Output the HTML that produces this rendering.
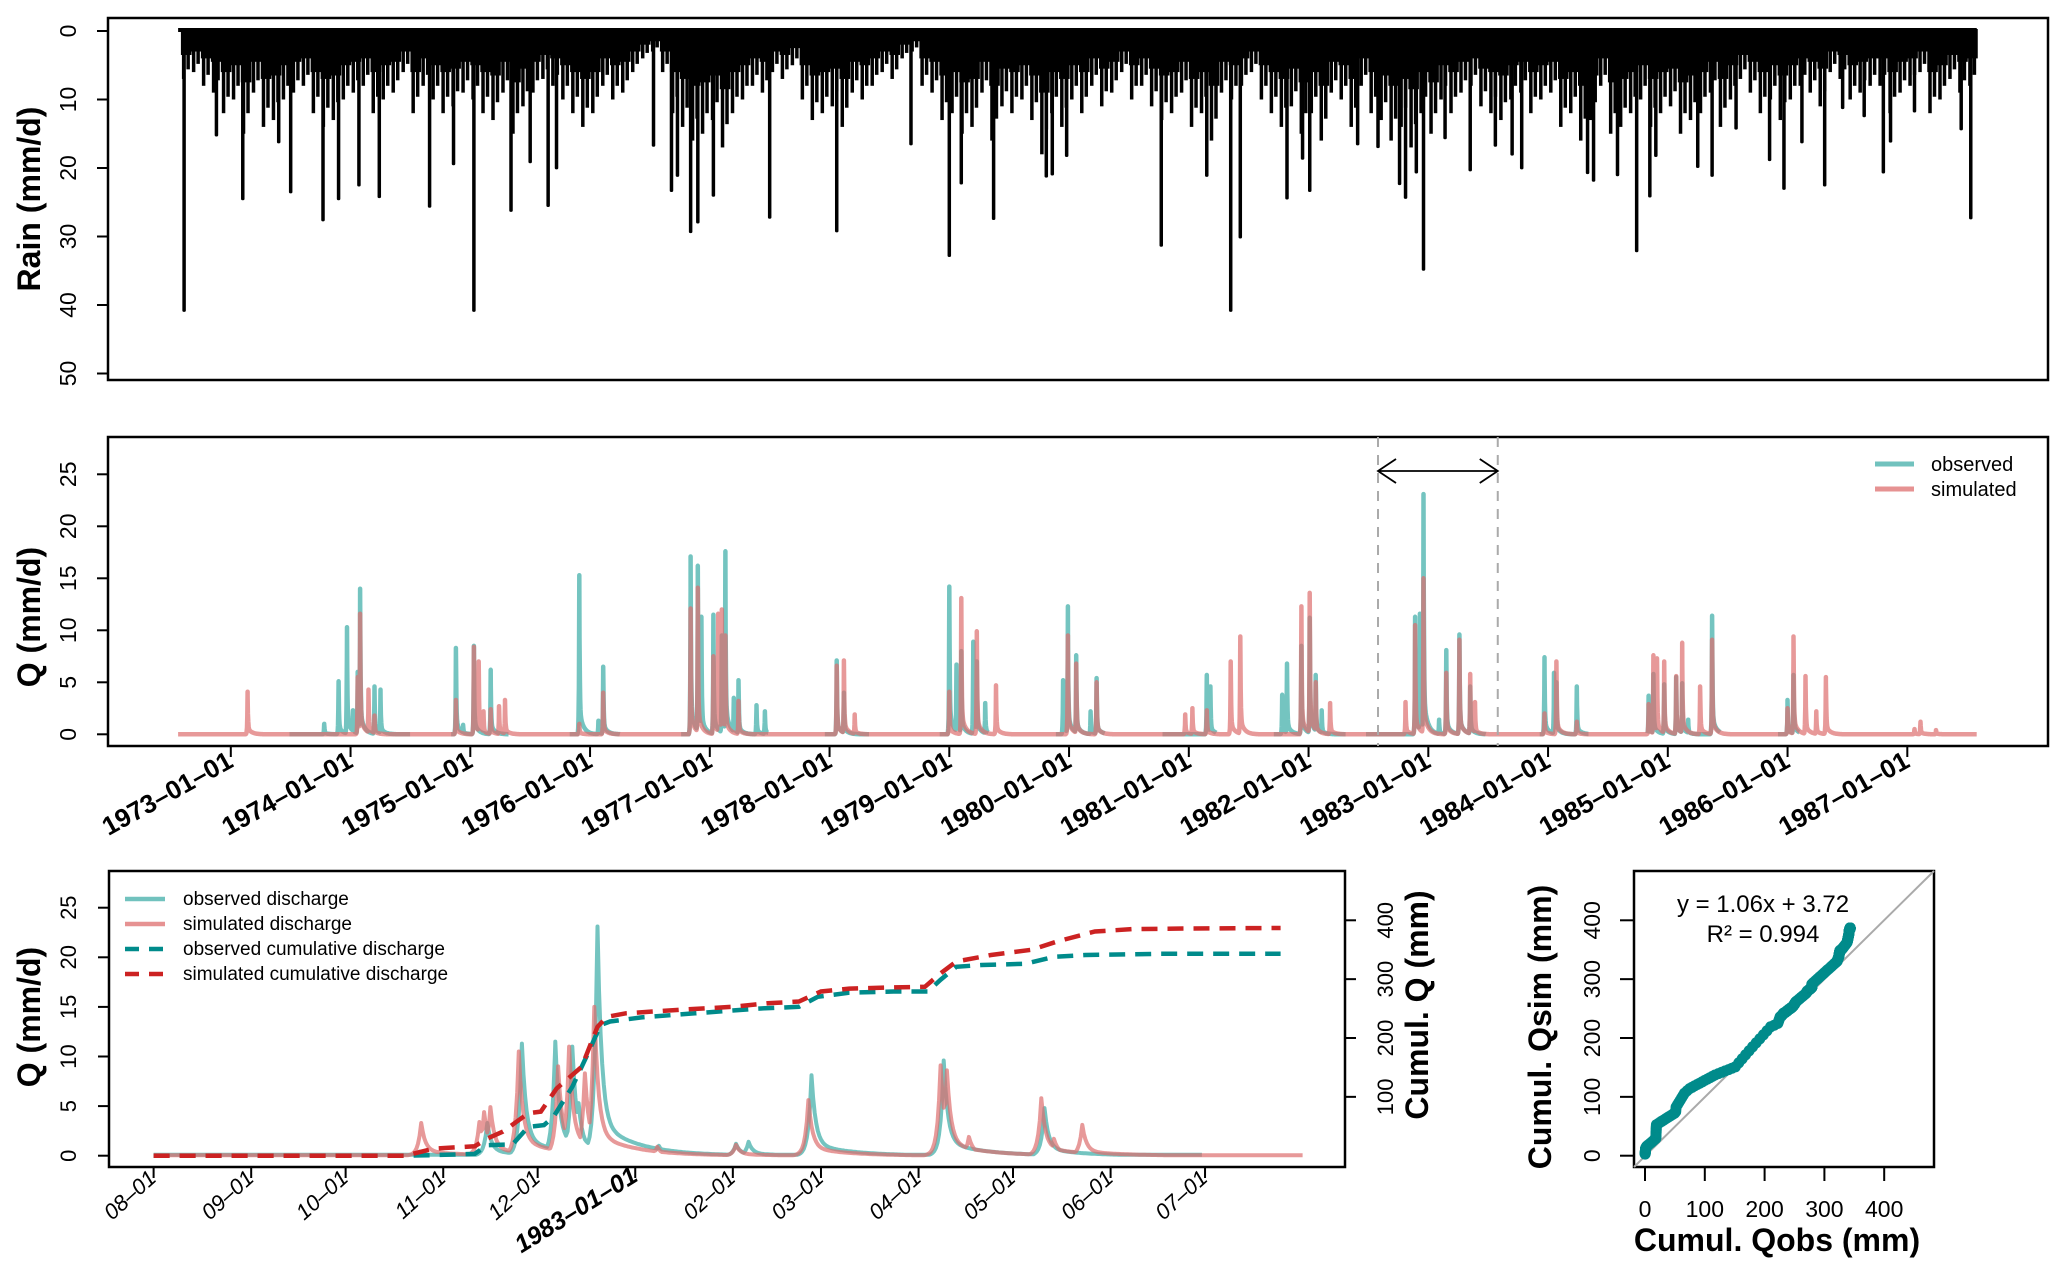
<!DOCTYPE html>
<html><head><meta charset="utf-8"><style>
html,body{margin:0;padding:0;background:#fff}
svg{display:block}
text{font-family:"Liberation Sans",sans-serif;fill:#000}
</style></head><body>
<svg id="fig" width="2067" height="1276" viewBox="0 0 2067 1276" xmlns="http://www.w3.org/2000/svg">
<g id="p1"></g>
<g id="p2"></g>
<g id="p3"></g>
<g id="p4"></g>
</svg>
<script>
// ---------- DATA ----------
const rainBase = [7,6,8,9,12,
10,15,9,14,13,10,9,8,12,14,13,10,
9,8,12,10,9,6,12,8,10,12,11,9,
10,12,13,9,15,11,9,7,8,10,12,14,
12,8,10,9,6,4,3,6,12,14,16,15,
13,17,12,10,8,9,6,7,5,10,13,12,
11,14,9,10,8,6,7,4,3,8,9,13,
12,15,14,9,16,11,12,10,13,18,12,14,
10,12,8,11,9,6,10,8,11,13,12,9,
14,12,16,9,10,8,6,10,12,14,11,15,
12,16,9,10,14,8,12,13,16,14,17,12,
15,10,12,9,8,11,12,13,10,9,12,10,
9,14,12,16,13,8,15,14,12,10,14,12,
11,15,13,12,9,14,10,7,9,12,10,13,
10,8,9,11,6,7,10,9,8,8,12,9,
8,6,12,10,7,9,8];
const rainSpikeDates = [1972.61,1972.88,1973.10,1973.40,1973.50,1973.77,1973.90,1974.07,1974.24,1974.66,1974.86,1975.03,1975.34,1975.50,1975.65,1975.72,1976.53,1976.68,1976.73,1976.84,1976.90,1977.03,1977.50,1978.06,1978.68,1979.00,1979.10,1979.37,1979.81,1979.86,1979.98,1980.77,1981.15,1981.35,1981.43,1981.82,1981.95,1982.01,1982.41,1982.58,1982.76,1982.81,1982.90,1982.96,1983.14,1983.35,1983.56,1983.70,1983.78,1984.33,1984.38,1984.58,1984.74,1984.85,1984.90,1985.25,1985.37,1985.57,1985.85,1985.97,1986.12,1986.31,1986.46,1986.64,1986.80,1986.86,1987.06,1987.45,1987.53];
const rainSpikeValues = [41,15.4,24.7,16.4,23.7,27.8,24.7,22.7,24.4,25.8,19.6,41,26.4,19.3,25.7,20.2,16.9,23.5,21.3,29.5,28.1,24.2,27.4,29.4,16.7,33,22.4,27.6,21.4,21.1,18.4,31.5,21.3,41,30.3,24.6,18.8,23.5,16.7,17.1,22.5,24.5,20.8,35,15.8,20.5,16.9,18.2,20.2,20.9,22,21.2,32.3,24.3,18.4,20,21.3,14.4,19,23.2,16.4,22.7,11.4,12.6,20.8,16.3,11.9,14.5,27.5];
const rainTicks = [0,10,20,30,40,50];

const simPeakDates = [1973.14,1974.06,1974.08,1974.15,1974.20,1974.88,1975.03,1975.07,1975.11,1975.17,1975.24,1975.29,1975.91,1976.11,1976.84,1976.90,1977.03,1977.07,1977.10,1977.13,1977.24,1978.06,1978.12,1978.21,1979.00,1979.10,1979.23,1979.39,1979.99,1980.06,1980.23,1980.97,1981.03,1981.15,1981.35,1981.43,1981.94,1982.01,1982.06,1982.18,1982.81,1982.89,1982.96,1983.15,1983.26,1983.35,1983.39,1983.97,1984.07,1984.24,1984.84,1984.88,1984.91,1984.97,1985.07,1985.12,1985.27,1985.37,1986.00,1986.05,1986.15,1986.24,1986.32,1987.06,1987.11,1987.24];
const simPeakValues = [4.1,5.5,11.6,4.3,1.8,3.3,8.4,7.0,2.2,2.4,2.7,3.3,1.0,4.0,12.1,14.1,7.5,11.6,12,9.5,3.2,6.6,7.1,1.9,4.1,13.1,9.9,4.7,9.5,6.8,5.0,1.9,2.5,2.3,7.0,9.4,12.3,13.6,5.0,3.0,3.1,10.5,15,5.9,9.1,5.8,3.1,2,7.0,1.2,2.9,7.6,7.3,7.0,5.6,8.8,4.6,9.1,2.5,9.4,5.6,2.2,5.5,0.5,1.2,0.4];
const obsPeakDates = [1973.78,1973.90,1973.97,1974.02,1974.06,1974.08,1974.20,1974.25,1974.88,1974.94,1975.03,1975.17,1975.91,1976.07,1976.11,1976.84,1976.90,1976.93,1977.03,1977.10,1977.13,1977.20,1977.24,1977.39,1977.46,1978.06,1978.12,1979.00,1979.06,1979.10,1979.20,1979.23,1979.30,1979.95,1979.99,1980.06,1980.18,1980.23,1981.15,1981.18,1981.78,1981.82,1981.94,1982.01,1982.06,1982.11,1982.89,1982.93,1982.96,1983.09,1983.15,1983.26,1983.35,1983.97,1984.05,1984.07,1984.24,1984.84,1984.88,1984.97,1985.07,1985.12,1985.17,1985.37,1986.00,1986.05];
const obsPeakValues = [1.0,5.1,10.3,2.3,6,14,4.6,4.3,8.3,0.9,8.5,6.2,15.3,1.3,6.5,17.1,16.2,11.3,11.5,9.5,17.6,3.5,5.2,2.8,2.2,7.1,4,14.2,6.7,8,8.9,7,3,5.2,12.3,7.6,2.2,5.4,5.7,4.6,3.8,6.8,8.5,11.2,5.7,2.3,11.3,11.6,23.1,1.4,8.1,9.6,4.6,7.4,5.9,5,4.6,3.7,5.8,4.8,5.5,4.9,1.4,11.4,3.3,5.7];
const obsPeriodStart = [1973.49,1974.84,1975.83,1976.76,1977.96,1978.92,1979.89,1980.78,1981.71,1982.48,1983.93,1984.83,1985.92];
const obsPeriodEnd   = [1974.50,1975.32,1976.25,1977.49,1978.33,1979.33,1980.30,1981.23,1982.31,1983.48,1984.34,1985.44,1986.10];
const yearLabels = ["1973-01-01","1974-01-01","1975-01-01","1976-01-01","1977-01-01","1978-01-01","1979-01-01","1980-01-01","1981-01-01","1982-01-01","1983-01-01","1984-01-01","1985-01-01","1986-01-01","1987-01-01"];
const qTicks = [0,5,10,15,20,25];

const zSimPeakDays = [85,103.5,105,107,116,128.5,132,137,140,160,185,208,250,252,259,282,286,295];
const zSimPeakValues = [3.3,3.4,4.4,4.9,10.5,9,11,8.3,15,0.9,1.1,5.6,9.1,8.6,1.9,5.8,1.7,3.1];
const zObsPeakDays = [84.5,106,117,127.6,133,135,141,160.5,185,189,209,251,283];
const zObsPeakValues = [0.4,3.3,11.3,11.5,11,5.3,23.1,1.0,1.2,1.4,8.1,9.6,4.8];
const simCumDays = [0,80,89,102,106,111,119,123,128,136,141,144,150,167,184,195,205,212,221,235,245,250,255,266,279,287,299,311,328,358];
const simCumVals = [0,0,12,16,29,41,72,75,114,151,219,236,242,248,253,259,262,279,284,286,287,310,330,341,350,364,381,385,386,387];
const obsCumDays = [0,80,89,102,106,114,119,124,127,133,138,142,145,155,172,192,205,211,221,235,246,250,255,263,277,286,296,320,358];
const obsCumVals = [0,0,1,3,18,19,49,52,66,117,174,222,228,235,242,250,253,270,277,279,279,299,321,324,326,338,341,343,343];
const monthDays = [0,31,61,92,122,153,184,212,243,273,304,334];
const monthLabels = ["08-01","09-01","10-01","11-01","12-01","1983-01-01","02-01","03-01","04-01","05-01","06-01","07-01"];
const cumTicks = [100,200,300,400];
const scatTicks = [0,100,200,300,400];

// ---------- HELPERS ----------
const NS="http://www.w3.org/2000/svg";
function mk(parent,tag,attrs,txt){const e=document.createElementNS(NS,tag);for(const k in attrs)e.setAttribute(k,attrs[k]);if(txt!==undefined)e.textContent=txt;parent.appendChild(e);return e;}
const DASH="\u2013";
const P1=document.getElementById('p1'),P2=document.getElementById('p2'),P3=document.getElementById('p3'),P4=document.getElementById('p4');
const X=yr=>230.8+(yr-1973)*119.75;
const YR=v=>31+v*6.85;
const YQ=v=>734.3-v*10.4;
const X3=d=>153.6+d*3.148;
const Y3=v=>1155.7-v*9.92;
const YC=v=>1155.7-v*0.5885;
const XS=v=>1645+v*0.598;
const YS=v=>1155.7-v*0.5885;
function kern(dtDays){ if(dtDays<0) return Math.exp(dtDays/1.0); return 0.85*Math.exp(-dtDays/1.3)+0.15*Math.exp(-dtDays/12); }
function hydro(t,dates,vals,scale){let m=0;for(let k=0;k<dates.length;k++){const dt=(t-dates[k])*scale;if(dt<-6||dt>80)continue;const v=vals[k]*kern(dt);if(v>m)m=v;}return m;}
function interp(xs,ys,x){if(x<=xs[0])return ys[0];for(let i=1;i<xs.length;i++){if(x<=xs[i]){const f=(x-xs[i-1])/(xs[i]-xs[i-1]);return ys[i-1]+f*(ys[i]-ys[i-1]);}}return ys[ys.length-1];}
// sample times on a regular grid plus the exact peak times so peaks are not clipped
function times(a,b,step,peaks){const ts=[];for(let t=a;t<=b;t+=step)ts.push(t);peaks.forEach(p=>{if(p>=a&&p<=b)ts.push(p);});return ts.sort((x,y)=>x-y);}

// ---------- PANEL 1: RAIN ----------
let e;
e=mk(P1,'rect',{x:108,y:18,width:1940,height:362,fill:'none',stroke:'#000','stroke-width':2.5});

const rg=mk(P1,'g',{fill:'#000'});

const mw=119.75/12;
rainBase.forEach((v,i)=>{const yr=1972+7/12+i/12;const x0=X(yr);
 const r=mk(rg,'rect',{x:x0,y:YR(0)-2,width:mw+0.6,height:YR(v*0.5)-YR(0)+2});
 
 const l=mk(rg,'rect',{x:x0+mw*0.1,y:YR(0),width:3.5,height:YR(v)-YR(0)});
 
 const l2=mk(rg,'rect',{x:x0+mw*0.55,y:YR(0),width:3.5,height:YR(v*0.8)-YR(0)});
 
});
rainSpikeDates.forEach((d,i)=>{const s=mk(rg,'rect',{x:X(d)-1.75,y:YR(0),width:3.5,height:YR(rainSpikeValues[i])-YR(0),rx:1.5});
 });
const rt=mk(P1,'rect',{x:X(1972.56),y:YR(0)-3,width:X(1987.58)-X(1972.56),height:4,fill:'#000'});

rainTicks.forEach(t=>{const y=YR(t);
 const l=mk(P1,'line',{x1:97,x2:108,y1:y,y2:y,stroke:'#000','stroke-width':2});
 
 const tx=mk(P1,'text',{x:0,y:0,transform:`translate(76,${y}) rotate(-90)`,'text-anchor':'middle','font-size':23},String(t));
 });
e=mk(P1,'text',{transform:'translate(40,199) rotate(-90)','text-anchor':'middle','font-size':32,'font-weight':'bold'},'Rain (mm/d)');


// ---------- PANEL 2: DISCHARGE ----------
e=mk(P2,'rect',{x:108,y:437,width:1940,height:309,fill:'none',stroke:'#000','stroke-width':2.5});

const t0=1972.56,t1=1987.58,dt=1/365.25;
obsPeriodStart.forEach((s,k)=>{const pts=times(s,obsPeriodEnd[k],dt,obsPeakDates).map(t=>X(t).toFixed(1)+','+YQ(hydro(t,obsPeakDates,obsPeakValues,365.25)).toFixed(1));
 const p=mk(P2,'polyline',{points:pts.join(' '),fill:'none',stroke:'#4db3ae','stroke-opacity':0.78,'stroke-width':4.5,'stroke-linejoin':'round'});
 });
{const pts=times(t0,t1,dt,simPeakDates).map(t=>X(t).toFixed(1)+','+YQ(hydro(t,simPeakDates,simPeakValues,365.25)).toFixed(1));
 const p=mk(P2,'polyline',{points:pts.join(' '),fill:'none',stroke:'#dd6d6d','stroke-opacity':0.7,'stroke-width':4.5,'stroke-linejoin':'round'});
 }
qTicks.forEach(t=>{const y=YQ(t);
 const l=mk(P2,'line',{x1:97,x2:108,y1:y,y2:y,stroke:'#000','stroke-width':2});
 
 const tx=mk(P2,'text',{transform:`translate(76,${y}) rotate(-90)`,'text-anchor':'middle','font-size':23},String(t));
 });
e=mk(P2,'text',{transform:'translate(40,617) rotate(-90)','text-anchor':'middle','font-size':32,'font-weight':'bold'},'Q (mm/d)');

yearLabels.forEach((lab,i)=>{const x=X(1973+i);
 const l=mk(P2,'line',{x1:x,x2:x,y1:746,y2:757,stroke:'#000','stroke-width':2});
 
 const tx=mk(P2,'text',{transform:`translate(${x+4},766) rotate(-29)`,'text-anchor':'end','font-size':26,'font-weight':'bold'},lab.split('-').join(DASH));
 });
[1982.58,1983.58].forEach(d=>{const l=mk(P2,'line',{x1:X(d),x2:X(d),y1:437,y2:746,stroke:'#aaa','stroke-width':2,'stroke-dasharray':'10 8'});
 });
{const xa=X(1982.58),xb=X(1983.58),y=471;
 e=mk(P2,'path',{d:`M${xa},${y}L${xb},${y}M${xa+18},${y-12}L${xa},${y}L${xa+18},${y+12}M${xb-18},${y-12}L${xb},${y}L${xb-18},${y+12}`,fill:'none',stroke:'#000','stroke-width':1.8});
 }
e=mk(P2,'line',{x1:1875,x2:1914,y1:464,y2:464,stroke:'#4db3ae','stroke-opacity':0.8,'stroke-width':5});

e=mk(P2,'text',{x:1931,y:471,'font-size':20},'observed');

e=mk(P2,'line',{x1:1875,x2:1914,y1:489,y2:489,stroke:'#dd6d6d','stroke-opacity':0.75,'stroke-width':5});

e=mk(P2,'text',{x:1931,y:496,'font-size':20},'simulated');


// ---------- PANEL 3: ZOOM YEAR ----------
e=mk(P3,'rect',{x:109,y:871,width:1236,height:296,fill:'none',stroke:'#000','stroke-width':2.5});

{const pts=times(0,333,0.5,zObsPeakDays).map(d=>X3(d).toFixed(1)+','+Y3(Math.max(0.1,hydro(d,zObsPeakDays,zObsPeakValues,1))).toFixed(1));
 const p=mk(P3,'polyline',{points:pts.join(' '),fill:'none',stroke:'#4db3ae','stroke-opacity':0.78,'stroke-width':4,'stroke-linejoin':'round'});
 }
{const pts=times(0,365,0.5,zSimPeakDays).map(d=>X3(d).toFixed(1)+','+Y3(Math.max(0.05,hydro(d,zSimPeakDays,zSimPeakValues,1))).toFixed(1));
 const p=mk(P3,'polyline',{points:pts.join(' '),fill:'none',stroke:'#dd6d6d','stroke-opacity':0.7,'stroke-width':4,'stroke-linejoin':'round'});
 }
e=mk(P3,'polyline',{points:obsCumDays.map((d,i)=>X3(d).toFixed(1)+','+YC(obsCumVals[i]).toFixed(1)).join(' '),fill:'none',stroke:'#008b8b','stroke-width':4.5,'stroke-dasharray':'16 10'});

e=mk(P3,'polyline',{points:simCumDays.map((d,i)=>X3(d).toFixed(1)+','+YC(simCumVals[i]).toFixed(1)).join(' '),fill:'none',stroke:'#cc2222','stroke-width':4.5,'stroke-dasharray':'16 10'});

qTicks.forEach(t=>{const y=Y3(t);
 const l=mk(P3,'line',{x1:98,x2:109,y1:y,y2:y,stroke:'#000','stroke-width':2});
 
 const tx=mk(P3,'text',{transform:`translate(76,${y}) rotate(-90)`,'text-anchor':'middle','font-size':22},String(t));
 });
cumTicks.forEach(t=>{const y=YC(t);
 const l=mk(P3,'line',{x1:1345,x2:1356,y1:y,y2:y,stroke:'#000','stroke-width':2});
 
 const tx=mk(P3,'text',{transform:`translate(1393,${y}) rotate(-90)`,'text-anchor':'middle','font-size':22},String(t));
 });
e=mk(P3,'text',{transform:'translate(40,1017) rotate(-90)','text-anchor':'middle','font-size':32,'font-weight':'bold'},'Q (mm/d)');

e=mk(P3,'text',{transform:'translate(1428,1005) rotate(-90)','text-anchor':'middle','font-size':32,'font-weight':'bold'},'Cumul. Q (mm)');

monthDays.forEach((d,i)=>{const x=X3(d);const big=monthLabels[i].length>6;
 const l=mk(P3,'line',{x1:x,x2:x,y1:1167,y2:1178,stroke:'#000','stroke-width':2});
 
 const tx=mk(P3,'text',{transform:`translate(${x+4},1180) rotate(${big?-32:-42})`,'text-anchor':'end','font-size':big?25:22,'font-style':'italic','font-weight':big?'bold':'normal'},monthLabels[i].split('-').join(DASH));
 });
const leg=[['observed discharge','#4db3ae',0.8,null],['simulated discharge','#dd6d6d',0.75,null],['observed cumulative discharge','#008b8b',1,'14 10'],['simulated cumulative discharge','#cc2222',1,'14 10']];
leg.forEach((L,i)=>{const y=899+i*25;
 const a={x1:125,x2:165,y1:y,y2:y,stroke:L[1],'stroke-opacity':L[2],'stroke-width':4.5};if(L[3])a['stroke-dasharray']=L[3];
 const l=mk(P3,'line',a);
 const t=mk(P3,'text',{x:183,y:y+6,'font-size':19},L[0]);});

// ---------- PANEL 4: SCATTER ----------
e=mk(P4,'rect',{x:1634,y:871,width:300,height:296,fill:'none',stroke:'#000','stroke-width':2.5});

e=mk(P4,'line',{x1:1634,y1:1167,x2:1934,y2:871,stroke:'#aaa','stroke-width':2});

for(let d=82;d<=358;d+=0.5){const o=interp(obsCumDays,obsCumVals,d),s=interp(simCumDays,simCumVals,d);
 const c=mk(P4,'circle',{cx:XS(o).toFixed(1),cy:YS(s).toFixed(1),r:5.5,fill:'#008b8b'});
 }
scatTicks.forEach(t=>{const x=XS(t);
 const l=mk(P4,'line',{x1:x,x2:x,y1:1167,y2:1181,stroke:'#000','stroke-width':2});
 
 const tx=mk(P4,'text',{x:x,y:1217,'text-anchor':'middle','font-size':23},String(t));
 
 const y=YS(t);
 const l2=mk(P4,'line',{x1:1620,x2:1634,y1:y,y2:y,stroke:'#000','stroke-width':2});
 
 const t2=mk(P4,'text',{transform:`translate(1600,${y}) rotate(-90)`,'text-anchor':'middle','font-size':23},String(t));
 });
e=mk(P4,'text',{x:1777,y:1251,'text-anchor':'middle','font-size':32,'font-weight':'bold'},'Cumul. Qobs (mm)');

e=mk(P4,'text',{transform:'translate(1551,1027) rotate(-90)','text-anchor':'middle','font-size':32,'font-weight':'bold'},'Cumul. Qsim (mm)');

e=mk(P4,'text',{x:1763,y:912,'text-anchor':'middle','font-size':24},'y = 1.06x + 3.72');

e=mk(P4,'text',{x:1763,y:942,'text-anchor':'middle','font-size':24},'R\u00B2 = 0.994');

</script>
</body></html>
